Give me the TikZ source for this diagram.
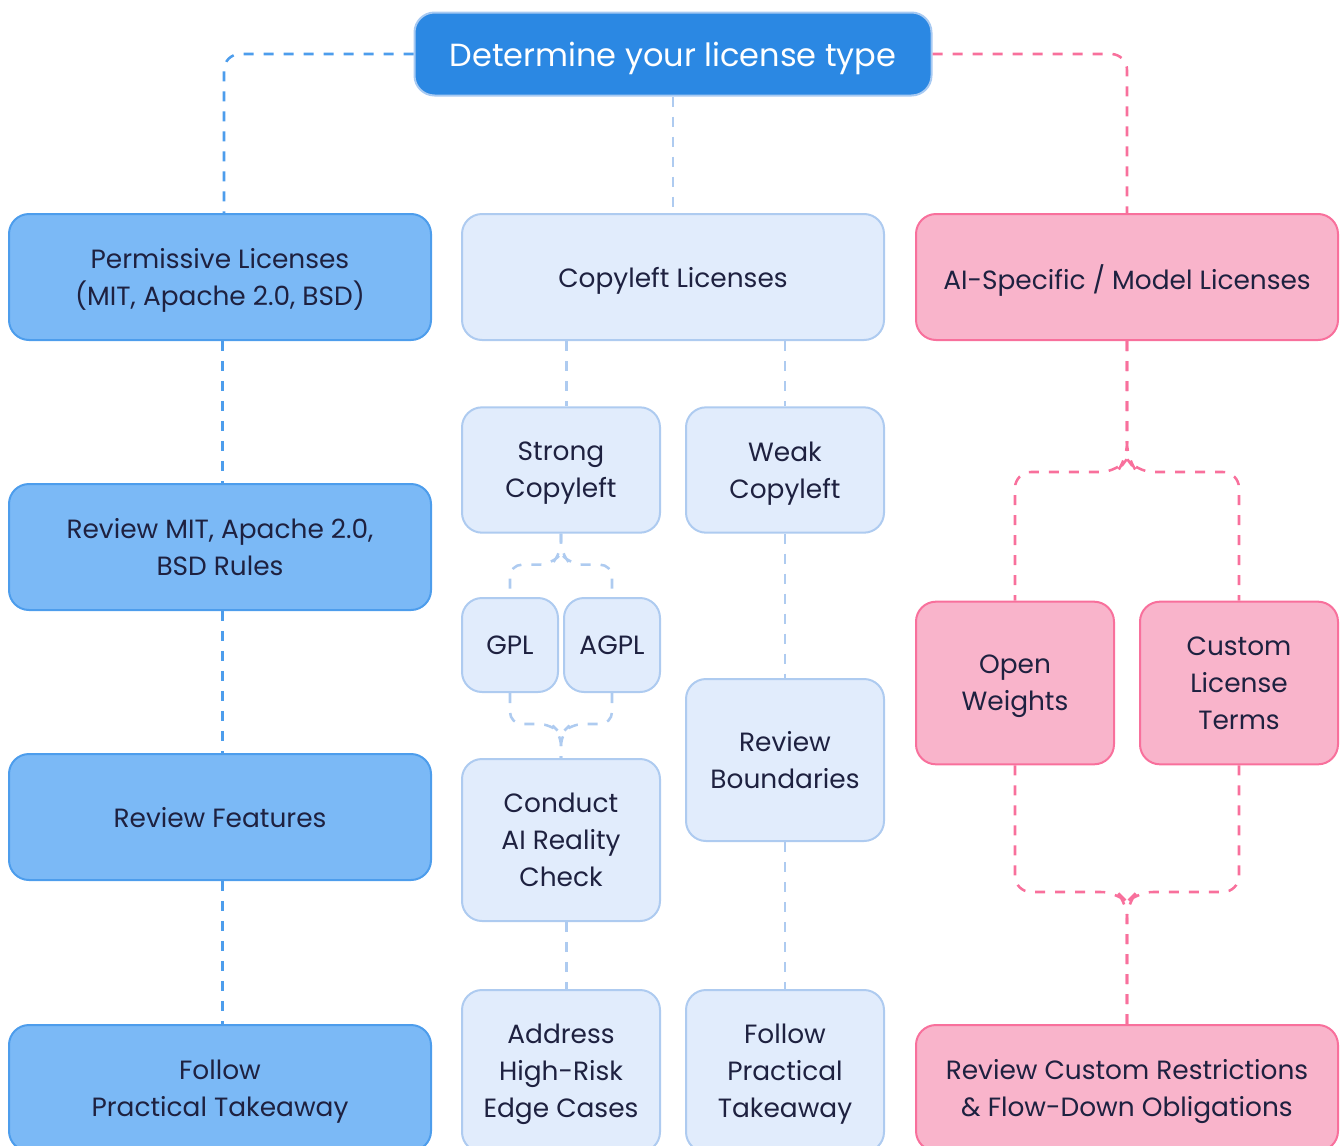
\documentclass[tikz,border=0pt]{standalone}
\usepackage{fontspec}
\setmainfont{Poppins}
\usetikzlibrary{positioning, calc}
\definecolor{ink}{HTML}{1E2140}
\definecolor{topfill}{HTML}{2B88E3}
\definecolor{topline}{HTML}{A8CAF2}
\definecolor{permfill}{HTML}{7BB9F6}
\definecolor{permline}{HTML}{4D9DEC}
\definecolor{copyfill}{HTML}{E1ECFC}
\definecolor{copyline}{HTML}{AECBF0}
\definecolor{aifill}{HTML}{F9B4CB}
\definecolor{ailine}{HTML}{F8709C}

\begin{document}
\begin{tikzpicture}[x=0.75pt,y=-0.75pt,
  box/.style={draw,line width=1.5pt,rounded corners=15pt,align=center,text depth=0pt,
    inner sep=0pt,text=ink,font=\fontsize{19.8}{27.75}\selectfont},
  perm/.style={box,fill=permfill,draw=permline,minimum width=316.5pt,minimum height=94.5pt},
  copy/.style={box,fill=copyfill,draw=copyline,minimum width=148.5pt,minimum height=94pt},
  ai/.style={box,fill=aifill,draw=ailine,minimum width=148.5pt,minimum height=122pt},
  link/.style={dashed,dash pattern=on 7.5pt off 7.5pt,line width=1.9pt},
  ldash/.style={link,permline},
  cdash/.style={link,copyline},
  pdash/.style={link,ailine}]
\useasboundingbox (0,0) rectangle (1340,1146);
% root
\node[box,fill=topfill,draw=topline,text=white,minimum width=387.75pt,minimum height=62.25pt,
  font=\fontsize{24}{28}\selectfont] (top) at (673,54) {Determine your license type};
% permissive column
\node[perm] (perm) at (220,277) {Permissive Licenses\\(MIT, Apache 2.0, BSD)};
\node[perm] (mit) at (220,547) {Review MIT, Apache 2.0,\\BSD Rules};
\node[perm] (feat) at (220,817) {Review Features};
\node[perm] (take) at (220,1088) {Follow\\Practical Takeaway};
% copyleft column
\node[copy,minimum width=316.5pt,minimum height=94.5pt] (copy) at (673,277) {Copyleft Licenses};
\node[copy] (strong) at (561,470) {Strong\\Copyleft};
\node[copy] (weak) at (785,470) {Weak\\Copyleft};
\node[copy,minimum width=72pt,minimum height=70.5pt] (gpl) at (510,645) {GPL};
\node[copy,minimum width=72pt,minimum height=70.5pt] (agpl) at (612,645) {AGPL};
\node[copy,minimum height=121.5pt] (check) at (561,840) {Conduct\\AI Reality\\Check};
\node[copy,minimum height=121.5pt] (bound) at (785,760) {Review\\Boundaries};
\node[copy,minimum height=121.5pt] (edge) at (561,1071) {Address\\High-Risk\\Edge Cases};
\node[copy,minimum height=121.5pt] (follow) at (785,1071) {Follow\\Practical\\Takeaway};
% AI column
\node[ai,minimum width=316.5pt,minimum height=94.5pt] (model) at (1127,277) {AI-Specific / Model Licenses};
\node[ai] (open) at (1015,683) {Open\\Weights};
\node[ai] (custom) at (1239,683) {Custom\\License\\Terms};
\node[ai,minimum width=316.5pt,minimum height=94.5pt] (restr) at (1127,1088) {Review Custom Restrictions\\\& Flow-Down Obligations};

% connectors
\draw[ldash,rounded corners=12pt] (top.west) -| ([xshift=3]perm.north);
\draw[ldash] ([xshift=2]perm.south) -- ([xshift=2]mit.north);
\draw[ldash] ([xshift=2]mit.south) -- ([xshift=2]feat.north);
\draw[ldash] ([xshift=2]feat.south) -- ([xshift=2]take.north);
\draw[cdash] (top) -- (copy);
\draw[cdash] ([xshift=4]copy.south -| strong) -- ([xshift=4]strong.north);
\draw[cdash] (copy.south -| weak) -- (weak);
\draw[cdash,rounded corners=9pt] (strong.south) -- ++(0,20) -- ++(-10,11) -| (gpl.north);
\draw[cdash,rounded corners=9pt] (strong.south) -- ++(0,20) -- ++(10,11) -| (agpl.north);
\draw[cdash,rounded corners=9pt] (gpl.south) |- ($(check.north)+(-10,-34)$) -- ++(10,10) -- (check.north);
\draw[cdash,rounded corners=9pt] (agpl.south) |- ($(check.north)+(10,-34)$) -- ++(-10,10) -- (check.north);
\draw[cdash] ([xshift=4]check.south) -- ([xshift=4]edge.north);
\draw[cdash] (weak) -- (bound);
\draw[cdash] (bound) -- (follow);
\draw[pdash,rounded corners=12pt] (top.east) -| (model.north);
\draw[pdash,rounded corners=12pt] (model.south) -- ++(0,118) -- ++(-10,13) -| (open.north);
\draw[pdash,rounded corners=12pt] (model.south) -- ++(0,118) -- ++(10,13) -| (custom.north);
\draw[pdash,rounded corners=12pt] (open.south) |- ($(restr.north)+(-10,-132)$) -- ++(10,10) -- (restr.north);
\draw[pdash,rounded corners=12pt] (custom.south) |- ($(restr.north)+(10,-132)$) -- ++(-10,10) -- (restr.north);
\end{tikzpicture}
\end{document}
